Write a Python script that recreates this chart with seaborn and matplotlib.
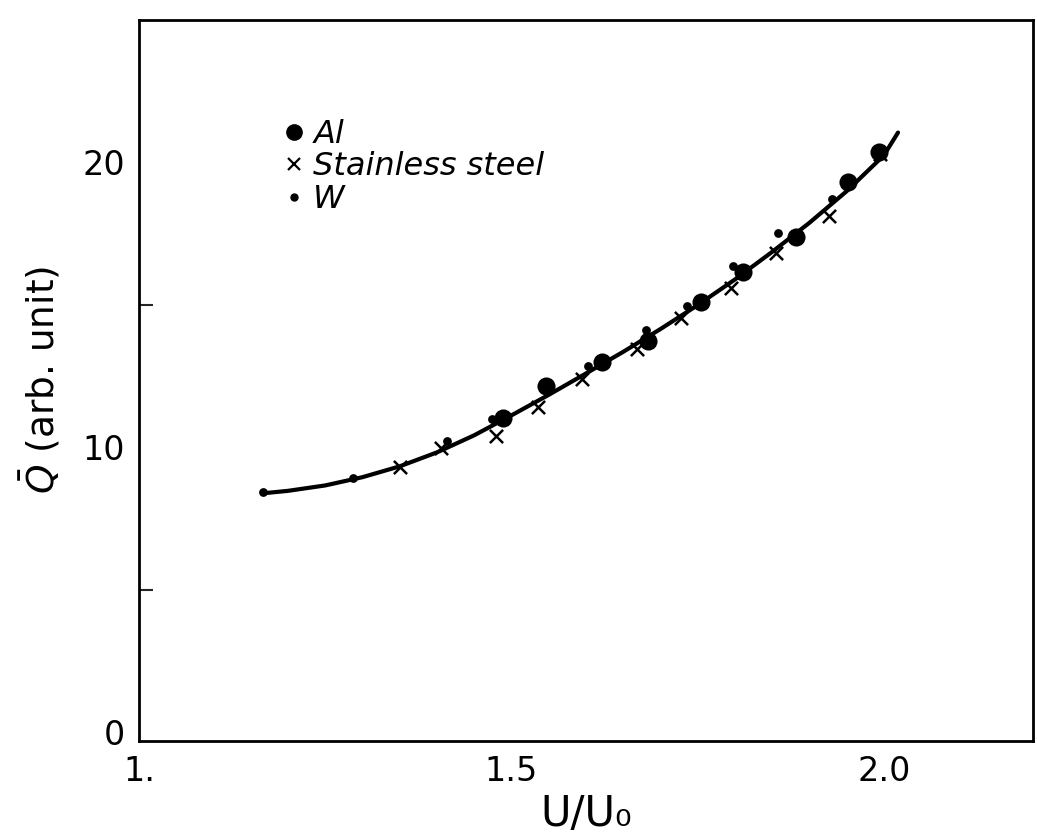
import matplotlib
matplotlib.use("Agg")
import matplotlib.pyplot as plt
import seaborn as sns
import pandas as pd
from matplotlib.lines import Line2D

# ---- data ----
al_x = [1.489, 1.547, 1.621, 1.684, 1.755, 1.811, 1.882, 1.952, 1.993]
al_y = [11.02, 12.14, 12.98, 13.72, 15.09, 16.14, 17.37, 19.30, 20.35]

ss_x = [1.351, 1.406, 1.479, 1.536, 1.595, 1.668, 1.728, 1.795, 1.855, 1.926, 1.995]
ss_y = [9.30, 9.96, 10.39, 11.40, 12.39, 13.44, 14.53, 15.58, 16.81, 18.11, 20.30]

w_x = [1.166, 1.287, 1.414, 1.474, 1.603, 1.681, 1.736, 1.798, 1.858, 1.930]
w_y = [8.42, 8.91, 10.21, 10.98, 12.84, 14.11, 14.95, 16.35, 17.51, 18.70]

curve_x = [1.165, 1.20, 1.25, 1.30, 1.35, 1.40, 1.45, 1.50, 1.55, 1.60, 1.65,
           1.70, 1.75, 1.80, 1.85, 1.90, 1.95, 2.00, 2.019]
curve_y = [8.38, 8.47, 8.66, 8.95, 9.33, 9.82, 10.42, 11.12, 11.84, 12.59, 13.35,
           14.15, 14.99, 15.89, 16.86, 17.88, 18.99, 20.25, 21.05]

x_ticks = [1.0, 1.5, 2.0]
x_ticklabels = ["1.", "1.5", "2.0"]
y_ticks = [0, 10, 20]
y_ticklabels = ["0", "10", "20"]
y_minor = [5, 15]

sns.set_style("white")
plt.rcParams['font.family'] = ['DejaVu Sans']
plt.rcParams['text.color'] = 'black'

fig = plt.figure(figsize=(10.37, 8.35), dpi=100)
ax = fig.add_axes([0.134, 0.113, 0.862, 0.863])

curve = pd.DataFrame({"x": curve_x, "y": curve_y})
sns.lineplot(data=curve, x="x", y="y", ax=ax, color="black", lw=3,
             sort=False, estimator=None)

sns.scatterplot(x=al_x, y=al_y, ax=ax, color="black", marker="o", s=170,
                edgecolor="black", linewidth=0, zorder=3)
sns.scatterplot(x=ss_x, y=ss_y, ax=ax, color="black", marker="x", s=90,
                linewidth=1.8, zorder=3)
sns.scatterplot(x=w_x, y=w_y, ax=ax, color="black", marker="o", s=40,
                edgecolor="black", linewidth=0, zorder=3)

ax.set_xlim(1.0, 2.2)
ax.set_ylim(-0.3, 25.0)
ax.set_xticks(x_ticks)
ax.set_xticklabels(x_ticklabels)
ax.set_yticks(y_ticks)
ax.set_yticklabels(y_ticklabels)
ax.set_yticks(y_minor, minor=True)
ax.tick_params(axis="both", which="major", direction="in", length=10, width=1.5,
               labelsize=24, pad=10, colors="black")
ax.tick_params(axis="y", which="minor", direction="in", length=10, width=1.5,
               left=True)
for s in ax.spines.values():
    s.set_color("black")
    s.set_linewidth(2)

ax.set_xlabel("U/U₀", fontsize=30, labelpad=4, color="black")
ax.set_ylabel(r"$\bar{Q}$ (arb. unit)", fontsize=27, labelpad=14, color="black")

handles = [
    Line2D([], [], ls="none", marker="o", color="black", markersize=11),
    Line2D([], [], ls="none", marker="x", color="black", markersize=8, mew=1.6),
    Line2D([], [], ls="none", marker="o", color="black", markersize=5),
]
leg = ax.legend(handles, ["Al", "Stainless steel", "W"], frameon=False,
                loc="upper left", bbox_to_anchor=(0.145, 0.885),
                handlelength=0.6, handletextpad=0.3, labelspacing=0.05,
                borderpad=0, prop={"style": "italic", "size": 23})
for t in leg.get_texts():
    t.set_color("black")

fig.savefig("out.png", dpi=100)
